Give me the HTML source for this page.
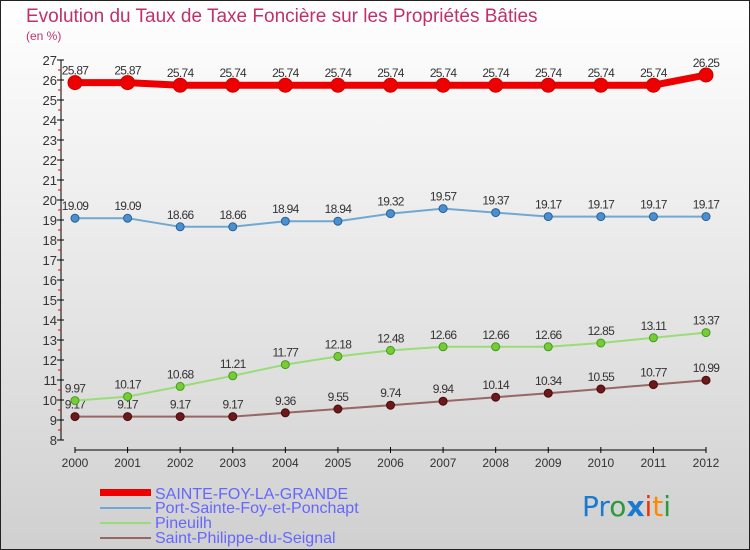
<!DOCTYPE html>
<html><head><meta charset="utf-8"><style>
body{margin:0}
#c{width:750px;height:550px;position:relative;overflow:hidden;font-family:"Liberation Sans",sans-serif;}
</style></head><body>
<div id="c">
<svg id="s" width="750" height="550" xmlns="http://www.w3.org/2000/svg">
<defs><linearGradient id="bg" x1="0" y1="0" x2="0" y2="1"><stop offset="0" stop-color="#ffffff"/><stop offset="1" stop-color="#d0d0d0"/></linearGradient></defs>
<rect x="0.5" y="0.5" width="749" height="549" fill="url(#bg)" stroke="#222"/>
<text x="26" y="22" font-size="19" fill="#c0306a">Evolution du Taux de Taxe Foncière sur les Propriétés Bâties</text>
<text x="26" y="40" font-size="12" fill="#c0306a">(en %)</text>
<g id="axes"></g><g id="series"></g>
<g font-size="16" fill="#6666ff">
<rect x="100" y="489" width="51" height="7" fill="#ee0000"/>
<text x="155" y="499">SAINTE-FOY-LA-GRANDE</text>
<rect x="100" y="507" width="51" height="2" fill="#6fa8d0"/>
<text x="155" y="513">Port-Sainte-Foy-et-Ponchapt</text>
<rect x="100" y="522" width="51" height="2" fill="#99dd77"/>
<text x="155" y="528">Pineuilh</text>
<rect x="100" y="537" width="51" height="2" fill="#996666"/>
<text x="155" y="543">Saint-Philippe-du-Seignal</text>
</g>
<text x="582" y="516" font-size="28" font-family="DejaVu Sans"><tspan fill="#1a7ad0">Pr</tspan><tspan fill="#2a9a3a">o</tspan><tspan fill="#1a7ad0" font-weight="bold">x</tspan><tspan fill="#ee3300">i</tspan><tspan fill="#ff8800">t</tspan><tspan fill="#2a9a3a">i</tspan></text>
</svg></div>
<script>
const years=["2000","2001","2002","2003","2004","2005","2006","2007","2008","2009","2010","2011","2012"];
const sainteFoy=[25.87,25.87,25.74,25.74,25.74,25.74,25.74,25.74,25.74,25.74,25.74,25.74,26.25];
const portSainteFoy=[19.09,19.09,18.66,18.66,18.94,18.94,19.32,19.57,19.37,19.17,19.17,19.17,19.17];
const pineuilh=[9.97,10.17,10.68,11.21,11.77,12.18,12.48,12.66,12.66,12.66,12.85,13.11,13.37];
const saintPhilippe=[9.17,9.17,9.17,9.17,9.36,9.55,9.74,9.94,10.14,10.34,10.55,10.77,10.99];
const yTicks=[8,9,10,11,12,13,14,15,16,17,18,19,20,21,22,23,24,25,26,27];
const NS="http://www.w3.org/2000/svg";
const xs=i=>75+i*(706-75)/(years.length-1);
const ys=v=>440-(v-8)*20;
function mk(t,a,p){const e=document.createElementNS(NS,t);for(const k in a)e.setAttribute(k,a[k]);p.appendChild(e);return e;}
const ax=document.getElementById('axes');
const yl=mk('line',{x1:61,y1:ys(27),x2:61,y2:ys(8),stroke:'#000'},ax);


yTicks.forEach(v=>{
 mk('line',{x1:57,x2:64,y1:ys(v),y2:ys(v),stroke:'#000'},ax);
 if(v<27) mk('line',{x1:58,x2:61,y1:ys(v+0.5),y2:ys(v+0.5),stroke:'#e00'},ax);
 const t=mk('text',{x:57,y:ys(v)+5,'text-anchor':'end','font-size':13,fill:'#333'},ax);
 t.textContent=v;
 
 
});
const xl=mk('line',{x1:75,y1:450,x2:706,y2:450,stroke:'#000'},ax);


years.forEach((y,i)=>{
 mk('line',{x1:xs(i),x2:xs(i),y1:447,y2:453,stroke:'#000'},ax);
 const t=mk('text',{x:xs(i),y:467,'text-anchor':'middle','font-size':12,fill:'#333'},ax);
 t.textContent=y;
 
 
});
const sg=document.getElementById('series');
function draw(arr,name,color,w,r,dot,stroke){
 const g=mk('g',{},sg);
 
 
 const l=mk('polyline',{points:arr.map((v,i)=>xs(i)+','+ys(v)).join(' '),fill:'none',stroke:color,'stroke-width':w},g);
 
 
 arr.forEach((v,i)=>{
  const c=mk('circle',{cx:xs(i),cy:ys(v),r:r,fill:dot,stroke:stroke,'stroke-width':1},g);
  
  
  const t=mk('text',{x:xs(i),y:ys(v)-8,'text-anchor':'middle','font-size':12,fill:'#333','letter-spacing':'-0.7'},g);
  t.textContent=v;
  
  
 });
}
draw(saintPhilippe,'saint-philippe','#996666',2,4,'#6a1a1a','#4a0a0a');
draw(pineuilh,'pineuilh','#99dd77',2,4,'#77cc33','#449922');
draw(portSainteFoy,'port-sainte-foy','#6fa8d0',2,4,'#4a90d0','#2a6090');
draw(sainteFoy,'sainte-foy','#ee0000',7,7,'#ee0000','#cc0000');
</script>
</body></html>
